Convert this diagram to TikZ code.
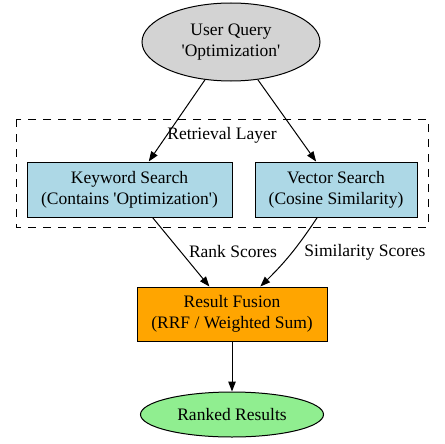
\documentclass[tikz,border=0pt]{standalone}
\usepackage{fontspec}
\setmainfont{Liberation Serif}
\usetikzlibrary{arrows.meta,shapes.geometric}
\definecolor{qgray}{HTML}{D3D3D3}
\definecolor{qblue}{HTML}{ADD8E6}
\definecolor{qorange}{HTML}{FFA500}
\definecolor{qgreen}{HTML}{90EE90}
\newcommand{\sq}{\textquotesingle}
\tikzset{
  base/.style={draw=black, line width=1pt, align=center, inner sep=0pt,
    font=\fontsize{17.5}{21}\selectfont},
  oval/.style={base, ellipse},
  boxnode/.style={base, rectangle},
  lbl/.style={font=\fontsize{17.5}{21}\selectfont, inner sep=0pt},
  edge/.style={draw=black, line width=1pt, -{Triangle[length=10pt,width=7.5pt]}},
}
\begin{document}
\begin{tikzpicture}[x=1pt,y=1pt]
\useasboundingbox (0,0) rectangle (444,-444);
% cluster
\draw[line width=1pt, dash pattern=on 8pt off 7pt] (16,-119) rectangle (428,-227);
\node[lbl] (cl) at (222,-135) {Retrieval Layer};
% nodes
\node[oval, fill=qgray, minimum width=178pt, minimum height=78pt] (uq) at (231,-42) {User Query\\\sq Optimization\sq};
\node[boxnode, fill=qblue, minimum width=205pt, minimum height=55pt] (kw) at (129.5,-189.5) {Keyword Search\\(Contains \sq Optimization\sq)};
\node[boxnode, fill=qblue, minimum width=162pt, minimum height=55pt] (vs) at (336,-189.5) {Vector Search\\(Cosine Similarity)};
\node[boxnode, fill=qorange, minimum width=190pt, minimum height=54pt] (rf) at (232,-314) {Result Fusion\\(RRF / Weighted Sum)};
\node[oval, fill=qgreen, minimum width=183pt, minimum height=45pt] (rr) at (232,-414.5) {Ranked Results};
% edges
\draw[edge] (uq) -- (kw);
\draw[edge] (uq) -- (vs);
\draw[edge] (kw) -- (rf);
\draw[edge] (vs) to[bend left=6] (rf);
\draw[edge] (rf) -- (rr);
% edge labels
\node[lbl] (l1) at (233,-252) {Rank Scores};
\node[lbl] (l2) at (365,-252) {Similarity Scores};
\end{tikzpicture}
\end{document}
